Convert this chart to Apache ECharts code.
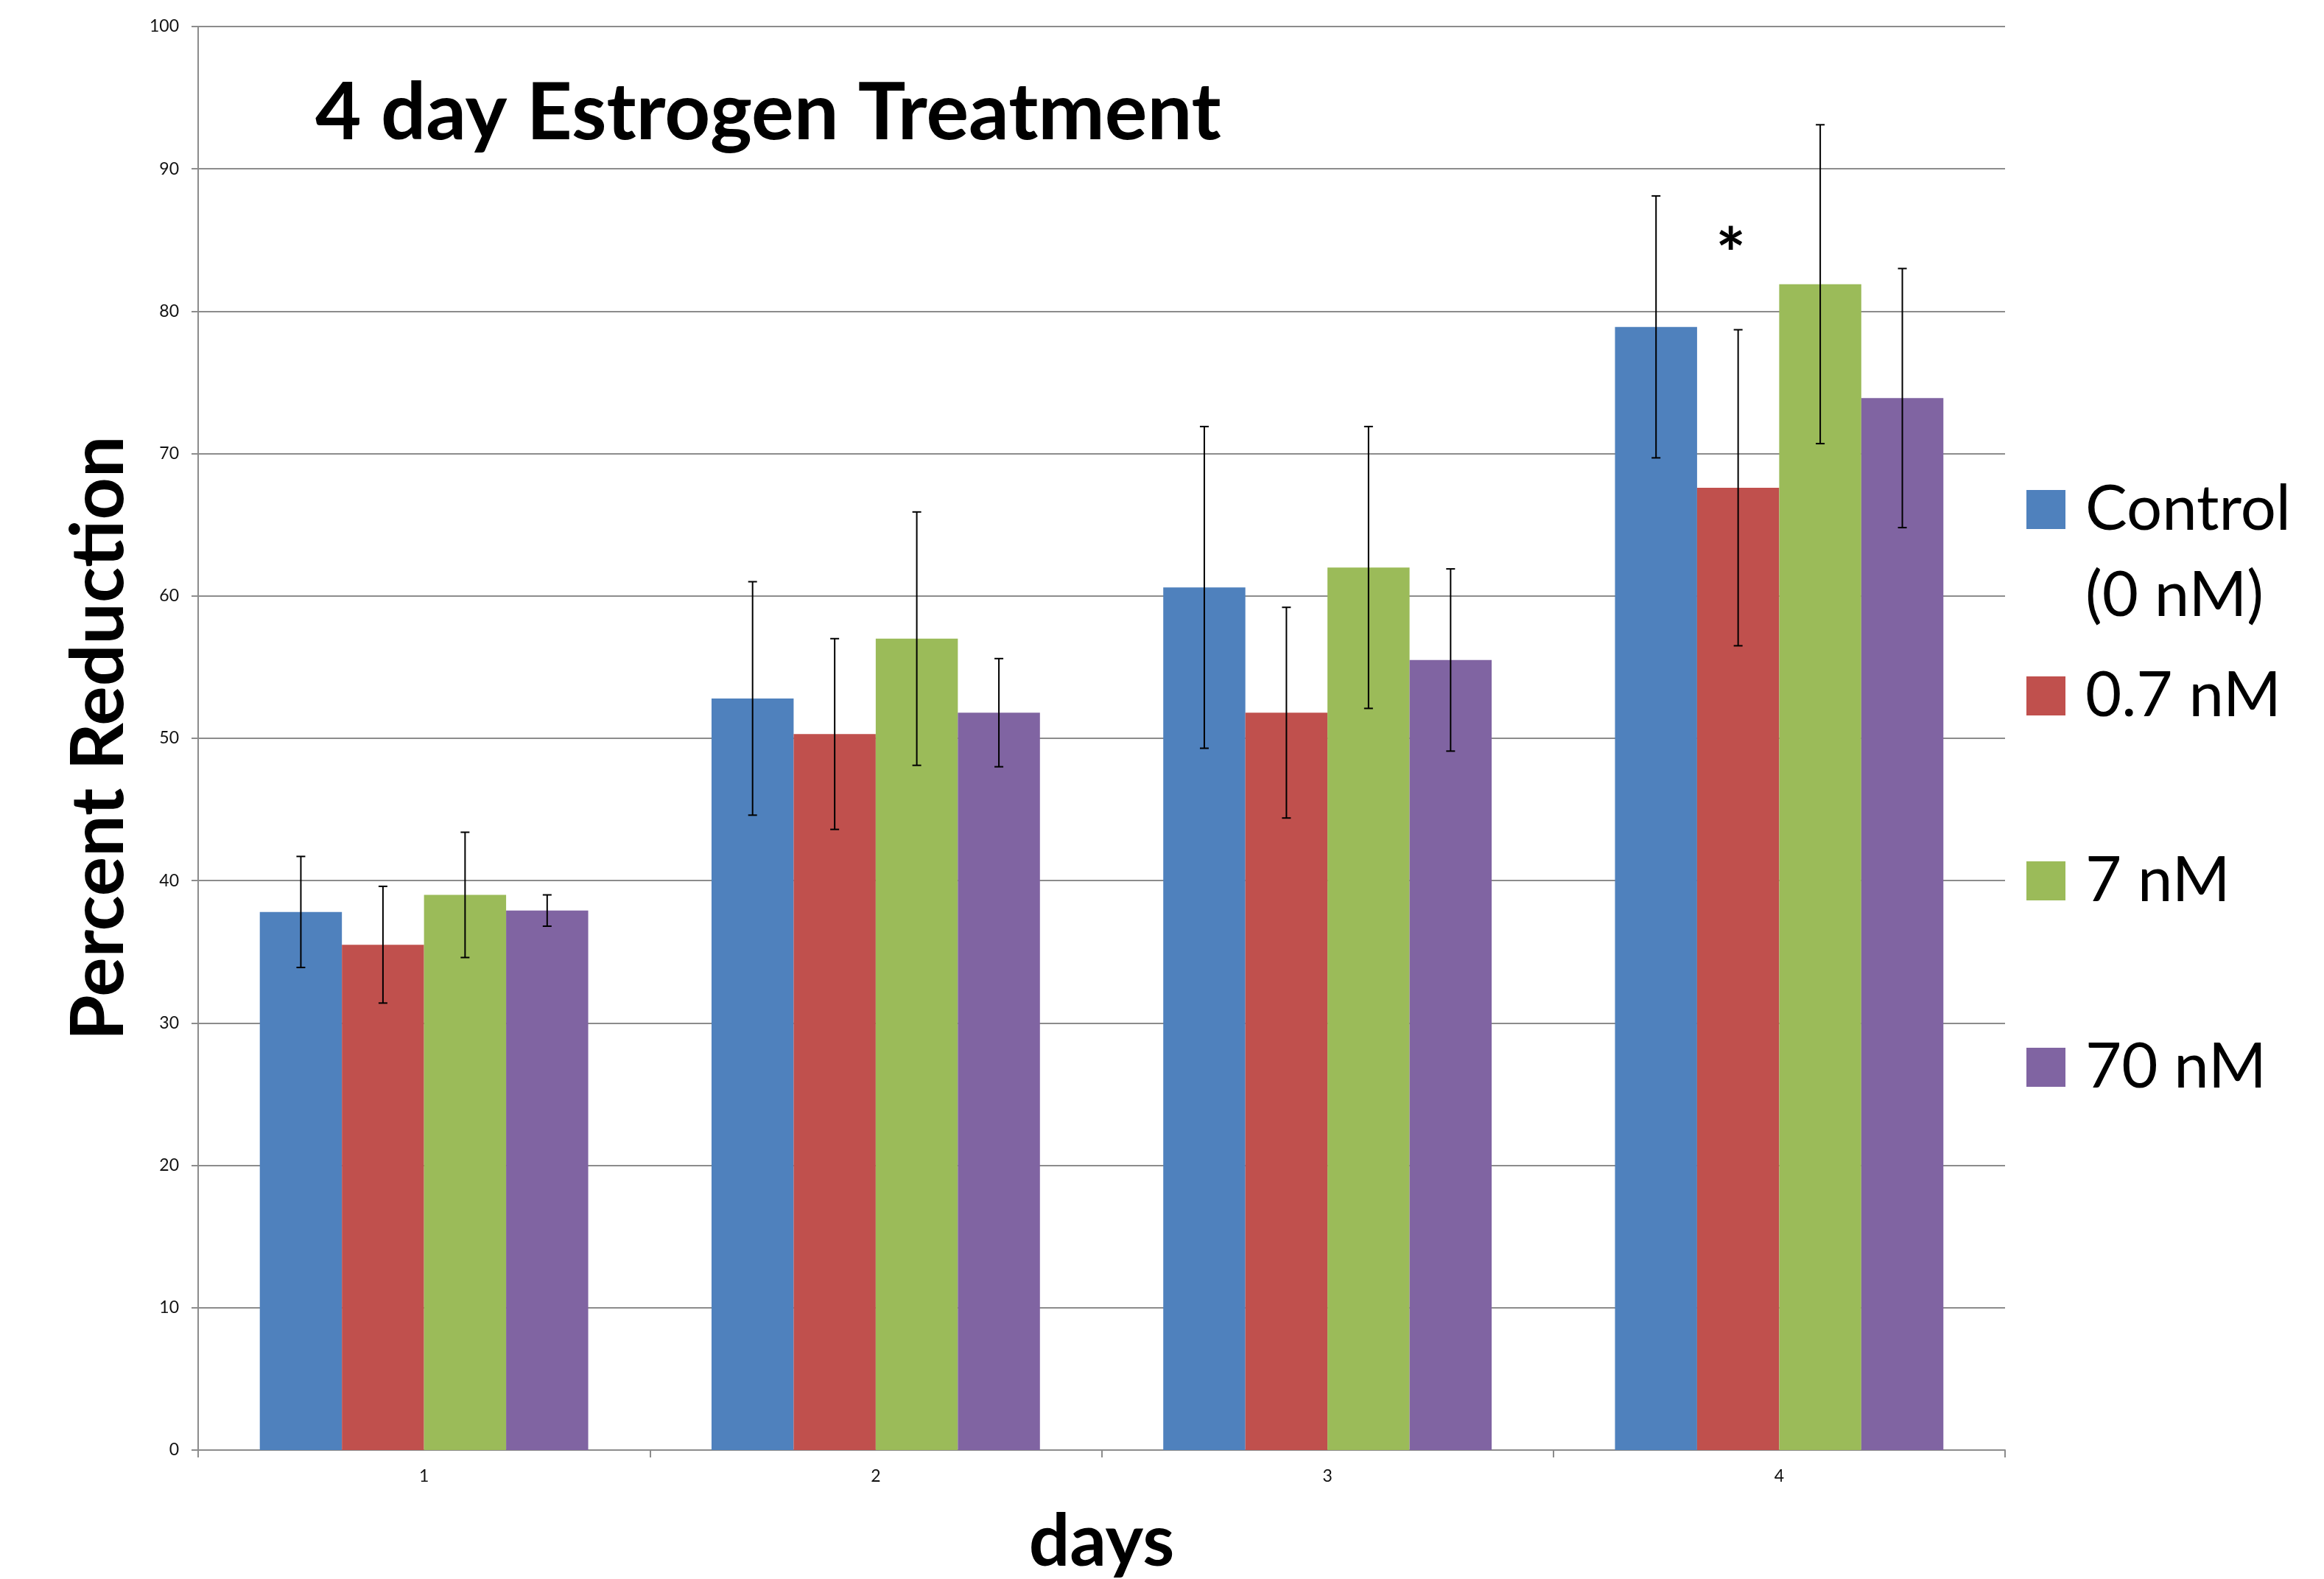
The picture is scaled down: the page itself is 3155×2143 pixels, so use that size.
<!DOCTYPE html>
<html>
<head>
<meta charset="utf-8">
<title>4 day Estrogen Treatment</title>
<script src="https://cdn.jsdelivr.net/npm/echarts@6/dist/echarts.min.js"></script>
<style>
  html, body { margin: 0; padding: 0; background: #fff; }
  #main { width: 3155px; height: 2143px; }
</style>
</head>
<body>
<div id="main"></div>
<script>
// 数据
var days = ['1', '2', '3', '4'];
var seriesNames = ['Control (0 nM)', '0.7 nM', '7 nM', '70 nM'];

var controlMean = [37.8, 52.8, 60.6, 78.9];
var nm07Mean = [35.5, 50.3, 51.8, 67.6];
var nm7Mean = [39.0, 57.0, 62.0, 81.9];
var nm70Mean = [37.9, 51.8, 55.5, 73.9];

var controlErr = [3.9, 8.2, 11.3, 9.2];
var nm07Err = [4.1, 6.7, 7.4, 11.1];
var nm7Err = [4.4, 8.9, 9.9, 11.2];
var nm70Err = [1.1, 3.8, 6.4, 9.1];

// significance mark: [day index, y value], drawn over the 0.7 nM bar
var sigMarks = [[3, 85]];

var means = [controlMean, nm07Mean, nm7Mean, nm70Mean];
var errs = [controlErr, nm07Err, nm7Err, nm70Err];
var colors = ['#4F81BD', '#C0504D', '#9BBB59', '#8064A2'];

var gapRatio = 0.273;   // barCategoryGap
var legendTops = [516, 886, 1137, 1390];

// x offset of bar i inside its category
function barOffset(api, i) {
    var band = api.size([1, 0])[0];
    var barW = band * (1 - gapRatio) / 4;
    return (i - 1.5) * barW;
}

function errorBarRenderer(i) {
    return function (params, api) {
        var cat = api.value(0);
        var lo = api.coord([cat, api.value(1)]);
        var hi = api.coord([cat, api.value(2)]);
        var x = lo[0] + barOffset(api, i);
        var cap = 6;
        var st = { stroke: '#000', lineWidth: 2 };
        return {
            type: 'group',
            children: [
                { type: 'line', shape: { x1: x, y1: hi[1], x2: x, y2: lo[1] }, style: st },
                { type: 'line', shape: { x1: x - cap, y1: hi[1], x2: x + cap, y2: hi[1] }, style: st },
                { type: 'line', shape: { x1: x - cap, y1: lo[1], x2: x + cap, y2: lo[1] }, style: st }
            ]
        };
    };
}

var series = [];
seriesNames.forEach(function (name, i) {
    series.push({
        name: name,
        type: 'bar',
        data: means[i],
        barGap: '0%',
        barCategoryGap: (gapRatio * 100) + '%',
        itemStyle: { color: colors[i] },
        emphasis: { disabled: true },
        animation: false
    });
});
seriesNames.forEach(function (name, i) {
    series.push({
        type: 'custom',
        name: name + ' err',
        renderItem: errorBarRenderer(i),
        data: days.map(function (d, k) {
            return [k, means[i][k] - errs[i][k], means[i][k] + errs[i][k]];
        }),
        z: 10,
        silent: true,
        animation: false
    });
});
series.push({
    type: 'custom',
    name: 'sig',
    renderItem: function (params, api) {
        var p = api.coord([api.value(0), api.value(1)]);
        return {
            type: 'text',
            x: p[0] + barOffset(api, 1) - 10,
            y: p[1] + 22,
            style: {
                text: '*',
                fill: '#000',
                font: 'bold 96px Lato',
                align: 'center',
                verticalAlign: 'middle'
            }
        };
    },
    data: sigMarks,
    z: 11,
    silent: true,
    animation: false
});

// one legend per item so each can sit where it is in the picture
var legends = seriesNames.map(function (name, i) {
    return {
        data: [name],
        orient: 'vertical',
        left: 2751,
        top: legendTops[i],
        itemWidth: 53,
        itemHeight: 53,
        padding: 0,
        icon: 'rect',
        selectedMode: false,
        formatter: function (n) {
            // Control wraps onto a 2nd line, first line level with the square
            return n === 'Control (0 nM)' ? '\nControl\n(0 nM)' : n;
        },
        textStyle: {
            fontFamily: 'Lato',
            fontSize: 85,
            lineHeight: 117,
            color: '#000',
            padding: [0, 0, 0, 22]
        }
    };
});

var chart = echarts.init(document.getElementById('main'));
var option = {
    backgroundColor: '#fff',
    animation: false,
    title: {
        text: '4 day Estrogen Treatment',
        left: 428,
        top: 100,
        padding: 0,
        textStyle: { fontFamily: 'Lato', fontWeight: 'bold', fontSize: 108, color: '#000' }
    },
    legend: legends,
    grid: {
        left: 269,
        right: 433,
        top: 36,
        bottom: 175,
        containLabel: false,
        outerBoundsMode: 'none'
    },
    xAxis: {
        type: 'category',
        data: days,
        name: 'days',
        nameLocation: 'middle',
        nameGap: 76,
        nameTextStyle: { fontFamily: 'Lato', fontWeight: 'bold', fontSize: 98, color: '#000' },
        axisLine: { lineStyle: { color: '#8c8c8c', width: 2 } },
        axisTick: { show: true, length: 10, lineStyle: { color: '#8c8c8c', width: 2 } },
        axisLabel: { fontFamily: 'Lato', fontSize: 23, color: '#111', margin: 24 },
        splitLine: { show: false }
    },
    yAxis: {
        type: 'value',
        min: 0,
        max: 100,
        interval: 10,
        name: 'Percent Reduction',
        nameLocation: 'middle',
        nameGap: 84,
        nameTextStyle: { fontFamily: 'Lato', fontWeight: 'bold', fontSize: 100, color: '#000' },
        axisLine: { show: true, lineStyle: { color: '#8c8c8c', width: 2 } },
        axisTick: { show: true, length: 9, lineStyle: { color: '#8c8c8c', width: 2 } },
        axisLabel: { fontFamily: 'Lato', fontSize: 23, color: '#111', margin: 26 },
        splitLine: { show: true, lineStyle: { color: '#8c8c8c', width: 2 } }
    },
    series: series
};
chart.setOption(option);
</script>
</body>
</html>
